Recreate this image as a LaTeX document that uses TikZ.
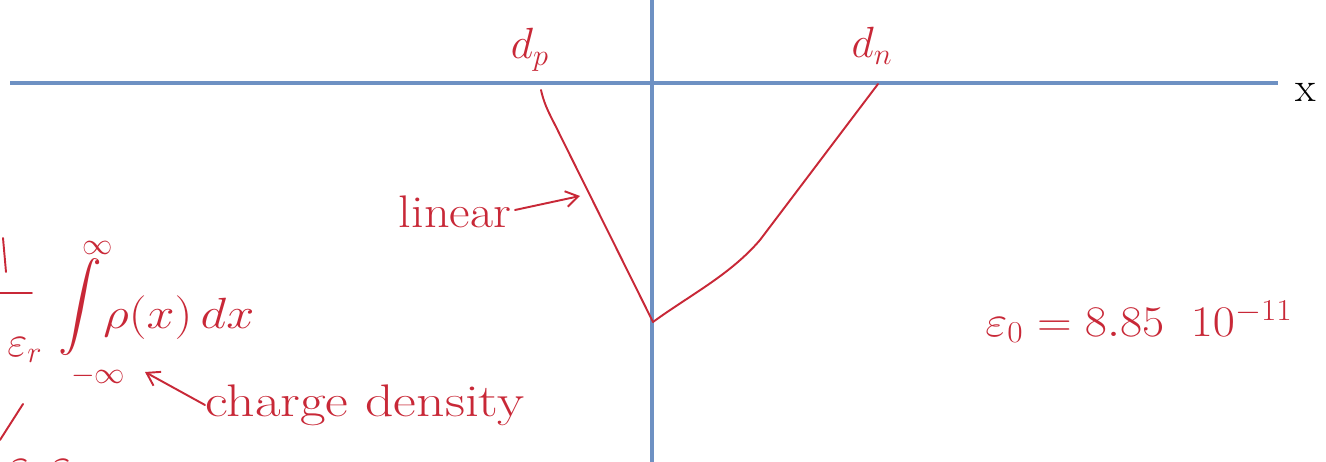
\documentclass[tikz,border=0pt]{standalone}
\usepackage{amsmath}
\usetikzlibrary{arrows.meta}
\definecolor{axisblue}{RGB}{110,145,195}
\definecolor{inkred}{RGB}{200,40,55}
\tikzset{
  axis/.style={draw=axisblue,line width=2.2pt},
  ink/.style={draw=inkred,line width=1.1pt,line cap=round,line join=round},
  inktext/.style={text=inkred,inner sep=0pt,font=\fontsize{26}{30}\selectfont},
  smalltext/.style={text=inkred,inner sep=0pt,font=\fontsize{18}{20}\selectfont},
  inkarrow/.style={ink,-{Straight Barb[length=7pt,width=9pt]}}
}
\begin{document}
\begin{tikzpicture}[x=0.02cm,y=-0.02cm]
\useasboundingbox (0,0) rectangle (1326,462);
\clip (0,0) rectangle (1326,462);
% axes
\coordinate (hl) at (10,83);
\coordinate (hr) at (1278,83);
\coordinate (vt) at (652,0);
\coordinate (vb) at (652,462);
\draw[axis] (hl) -- (hr);
\draw[axis] (vt) -- (vb);
\node[inner sep=0pt,font=\fontsize{24}{28}\selectfont] (xl) at (1306,92) {x};
% labels
\node[inktext] (dp) at (530,50) {$d_p$};
\node[inktext] (dn) at (872,46) {$d_n$};
% field curve
\coordinate (p0) at (541,90);
\coordinate (bot) at (653,322);
\coordinate (n0) at (878,84);
\draw[ink] (p0) .. controls (545,108) and (552,118) .. (560,135) -- (bot);
\draw[ink] (bot) .. controls (690,295) and (730,275) .. (760,240) -- (n0);
% linear label
\node[inktext,xscale=1.1] (lin) at (455,212) {linear};
\coordinate (linend) at (580,196);
\draw[inkarrow] (515,210) -- (linend);
% formula on left
\draw[ink] (3,238) -- (6,272);
\draw[ink] (0,293) -- (32,293);
\node[inktext] (er) at (25,350) {$\varepsilon_r$};
\node[inktext] (int) at (80,307) {$\displaystyle\int$};
\node[smalltext] (sup) at (98,248) {$\infty$};
\node[smalltext] (sub) at (98,376) {$-\infty$};
\node[inktext,anchor=west,xscale=1.15] (rho) at (103,318) {$\rho(x)\,dx$};
% charge density
\node[inktext,anchor=west,xscale=1.22] (cd) at (205,405) {charge density};
\coordinate (cdtip) at (145,372);
\draw[inkarrow] (cd.west) -- (cdtip);
% bottom partial
\draw[ink] (23,404) -- (0,440);
\node[inktext,anchor=west] (bp) at (8,472) {$\varepsilon_0\,\varepsilon_r$};
% epsilon_0
\node[inktext,anchor=west,xscale=1.1] (eps) at (985,322) {$\varepsilon_0 = 8.85\;\;10^{-11}$};
\end{tikzpicture}
\end{document}
